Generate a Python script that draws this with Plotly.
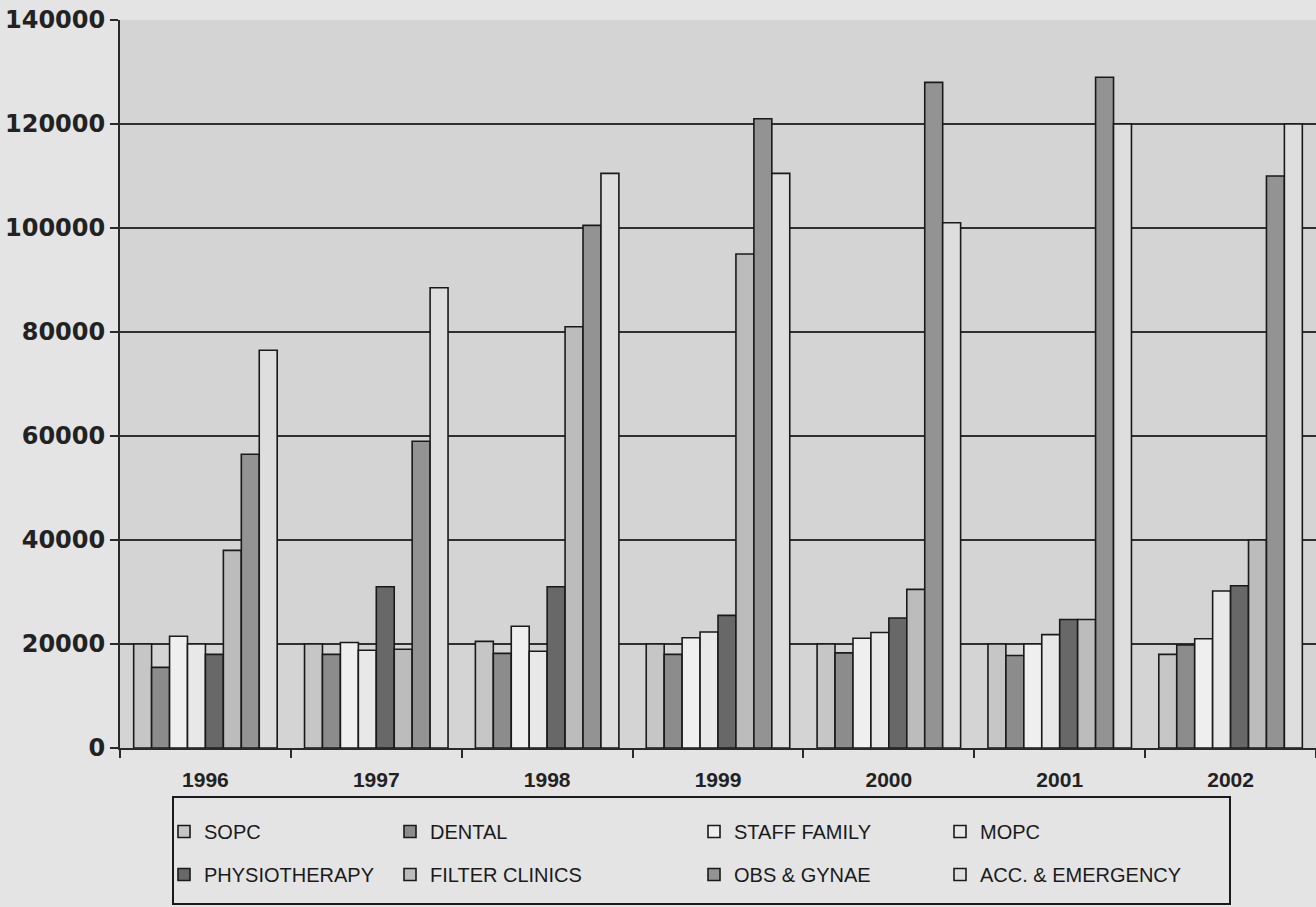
import plotly.graph_objects as go

years = ["1996", "1997", "1998", "1999", "2000", "2001", "2002"]

sopc = [20000, 20000, 20500, 20000, 20000, 20000, 18000]
dental = [15500, 18000, 18200, 18000, 18300, 17800, 19800]
staff_family = [21500, 20300, 23400, 21200, 21100, 20000, 21000]
mopc = [20000, 18800, 18600, 22300, 22200, 21800, 30200]
physiotherapy = [18000, 31000, 31000, 25500, 25000, 24700, 31200]
filter_clinics = [38000, 19000, 81000, 95000, 30500, 24700, 40000]
obs_gynae = [56500, 59000, 100500, 121000, 128000, 129000, 110000]
acc_emergency = [76500, 88500, 110500, 110500, 101000, 120000, 120000]

y_ticks = [0, 20000, 40000, 60000, 80000, 100000, 120000, 140000]

series = [
    ("SOPC", sopc, "#c6c6c6", "legend", 1),
    ("DENTAL", dental, "#8c8c8c", "legend2", 1),
    ("STAFF FAMILY", staff_family, "#efefef", "legend3", 1),
    ("MOPC", mopc, "#e8e8e8", "legend4", 1),
    ("PHYSIOTHERAPY", physiotherapy, "#686868", "legend", 2),
    ("FILTER CLINICS", filter_clinics, "#bcbcbc", "legend2", 2),
    ("OBS & GYNAE", obs_gynae, "#939393", "legend3", 2),
    ("ACC. & EMERGENCY", acc_emergency, "#dedede", "legend4", 2),
]

fig = go.Figure()
for name, vals, col, leg, row in series:
    fig.add_trace(go.Bar(
        x=years, y=vals, name=name,
        marker=dict(color=col, line=dict(color="#1a1a1a", width=1.6)),
        legend=leg, legendgroup=name, legendrank=row,
    ))

W, H = 1316, 907
ml, mr, mt, mb = 120, 0, 20, 159
pw, ph = W - ml - mr, H - mt - mb

def px_x(x):
    return (x - ml) / pw

def px_y(y):
    return (H - mb - y) / ph

leg_font = dict(family="Liberation Sans, Arial, sans-serif", size=20, color="#1a1a1a")
col_sym = [180, 406, 710, 956]
leg_common = dict(orientation="v", xanchor="left", yanchor="top", font=leg_font,
                  bgcolor="rgba(0,0,0,0)", borderwidth=0, tracegroupgap=14,
                  itemclick=False, itemdoubleclick=False)
legs = {}
for i, key in enumerate(["legend", "legend2", "legend3", "legend4"]):
    legs[key] = dict(x=px_x(col_sym[i] - 16), y=px_y(812), **leg_common)

fig.update_layout(
    width=W, height=H,
    margin=dict(l=ml, r=mr, t=mt, b=mb),
    paper_bgcolor="#e4e4e4",
    plot_bgcolor="#d4d4d4",
    barmode="group",
    bargap=0.16,
    bargroupgap=0,
    showlegend=True,
    font=dict(family="Liberation Sans, Arial, sans-serif", color="#1a1a1a"),
    xaxis=dict(
        type="category",
        tickvals=years,
        ticktext=["<b>%s</b>" % y for y in years],
        showline=True, linecolor="#2a2a2a", linewidth=2,
        ticks="outside", tickson="boundaries", ticklen=8, tickcolor="#2a2a2a", tickwidth=2,
        ticklabelstandoff=12,
        tickfont=dict(size=21, family="Liberation Sans, Arial, sans-serif", color="#222"),
        showgrid=False,
    ),
    yaxis=dict(
        range=[0, 140000],
        tickvals=y_ticks,
        ticktext=["<b>%d</b>" % v for v in y_ticks],
        showgrid=True, gridcolor="#303030", gridwidth=2.2,
        showline=True, linecolor="#2a2a2a", linewidth=2,
        ticks="outside", ticklen=8, tickcolor="#2a2a2a", tickwidth=2,
        tickfont=dict(size=24, family="DejaVu Sans, sans-serif", color="#222"),
        zeroline=False,
    ),
    **legs,
)

fig.add_shape(
    type="rect", xref="paper", yref="paper",
    x0=px_x(173), x1=px_x(1230), y0=px_y(904), y1=px_y(797),
    line=dict(color="#1a1a1a", width=2), fillcolor="rgba(0,0,0,0)", layer="above",
)

fig.write_html(
    "out.html",
    config={"displayModeBar": False},
    post_script="document.body.style.margin='0';document.body.style.padding='0';",
)
